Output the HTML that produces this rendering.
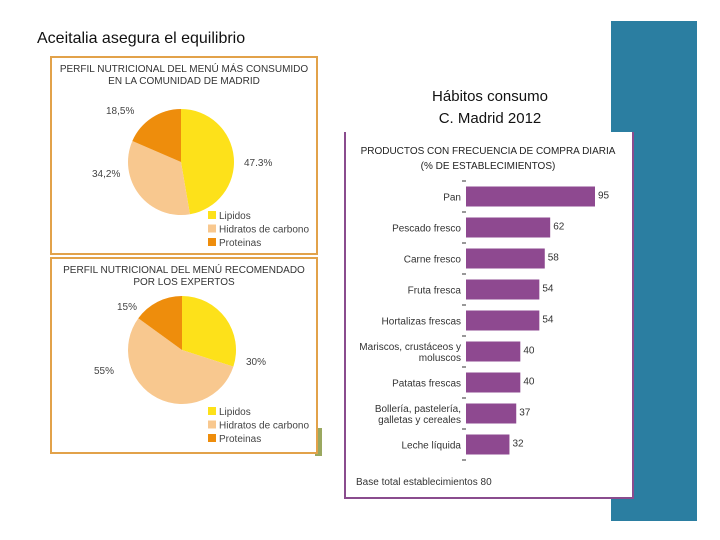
<!DOCTYPE html>
<html><head><meta charset="utf-8"><style>
body{margin:0;width:720px;height:540px;background:#fff;position:relative;overflow:hidden;font-family:"Liberation Sans",sans-serif}
.abs{position:absolute}
</style></head><body>
<div class="abs" style="left:37px;top:30px;font-size:16px;color:#111;">Aceitalia asegura el equilibrio</div>
<div class="abs" style="left:611px;top:21px;width:86px;height:500px;background:#2b7ea1"></div>
<div class="abs" style="left:315px;top:428px;width:7px;height:28px;background:#9aa860"></div>
<div class="abs" style="left:400px;top:86px;width:180px;text-align:center;font-size:15px;line-height:22px;color:#111">Hábitos consumo<br>C. Madrid 2012</div>
<svg class="abs" style="left:0;top:0" width="720" height="540">
<g id="pies"></g>
<g id="bars"></g>
</svg>
<script>
const pieLabels=["Lipidos","Hidratos de carbono","Proteinas"];
const pie1Values=[47.3,34.2,18.5];
const pie1Text=["47.3%","34,2%","18,5%"];
const pie2Values=[30,55,15];
const pie2Text=["30%","55%","15%"];
const pieColors=["#fde11a","#f8c88f","#ee8d0c"];
const categories=["Pan","Pescado  fresco","Carne fresco","Fruta fresca","Hortalizas frescas","Mariscos, crustáceos y|moluscos","Patatas frescas","Bollería, pastelería,|galletas y cereales","Leche líquida"];
const barValues=[95,62,58,54,54,40,40,37,32];
const NS="http://www.w3.org/2000/svg";
function mk(t,a,p){const e=document.createElementNS(NS,t);for(const k in a)e.setAttribute(k,a[k]);p.appendChild(e);return e;}
const pg=document.getElementById('pies');
function pie(y0,h,title,vals,txt,cx,cy,r,lblPos,legOff){
  const box=mk('rect',{x:51,y:y0,width:266,height:h,fill:'#fff',stroke:'#e2a24a','stroke-width':2},pg);
  
  title.forEach((t,i)=>{const e=mk('text',{x:184,y:y0+15+i*12,'text-anchor':'middle','font-size':10,fill:'#333'},pg);e.textContent=t;});
  const tot=vals.reduce((a,b)=>a+b,0);let a=-Math.PI/2;
  vals.forEach((v,i)=>{const a2=a+v/tot*2*Math.PI;const x1=cx+r*Math.cos(a),y1=cy+r*Math.sin(a),x2=cx+r*Math.cos(a2),y2=cy+r*Math.sin(a2);
    const p=mk('path',{d:`M${cx},${cy}L${x1},${y1}A${r},${r} 0 ${a2-a>Math.PI?1:0} 1 ${x2},${y2}Z`,fill:pieColors[i]},pg);
    
    const t=mk('text',{x:lblPos[i][0],y:lblPos[i][1],'font-size':10,fill:'#444'},pg);t.textContent=txt[i];
    a=a2;});
  pieLabels.forEach((l,i)=>{const ly=y0+h-legOff+i*13.5;mk('rect',{x:208,y:ly-8,width:8,height:8,fill:pieColors[i]},pg);
    const t=mk('text',{x:219,y:ly,'font-size':10,fill:'#444'},pg);t.textContent=l;});
}
pie(57,197,["PERFIL NUTRICIONAL DEL MENÚ MÁS CONSUMIDO","EN LA COMUNIDAD DE MADRID"],pie1Values,pie1Text,181,162,53,[[244,166],[92,177],[106,114]],35);
pie(258,195,["PERFIL NUTRICIONAL DEL MENÚ RECOMENDADO","POR LOS EXPERTOS"],pie2Values,pie2Text,182,350,54,[[246,365],[94,374],[117,310]],38);
const bg=document.getElementById('bars');
mk('rect',{x:345,y:132,width:288,height:366,fill:'#fff'},bg);
const panel=mk('path',{d:'M345,132V498H633V132',fill:'none',stroke:'#8a4c8e','stroke-width':2},bg);

[["PRODUCTOS CON FRECUENCIA DE COMPRA DIARIA",154],["(% DE ESTABLECIMIENTOS)",169]].forEach(([t,y])=>{const e=mk('text',{x:488,y:y,'text-anchor':'middle','font-size':10,fill:'#222'},bg);e.textContent=t;});
const x0=466,sx=129/95,yTop=181,step=31;
const xs=v=>x0+v*sx, yc=i=>yTop+step*(i+0.5);
for(let i=0;i<=categories.length;i++)mk('line',{x1:462,x2:466,y1:yTop+step*i,y2:yTop+step*i,stroke:'#333'},bg);
categories.forEach((c,i)=>{
  const b=mk('rect',{x:x0,y:yc(i)-10,width:xs(barValues[i])-x0,height:20,fill:'#8e4990'},bg);
  
  const parts=c.split('|');
  parts.forEach((p,j)=>{const t=mk('text',{x:461,y:yc(i)+4+(j-(parts.length-1)/2)*11,'text-anchor':'end','font-size':10,fill:'#333'},bg);t.textContent=p;});
  const v=mk('text',{x:xs(barValues[i])+3,y:yc(i)+2,'font-size':10,fill:'#333'},bg);v.textContent=barValues[i];
  
});
const base=mk('text',{x:356,y:485,'font-size':10,fill:'#333'},bg);base.textContent="Base total establecimientos 80";

</script>
</body></html>
